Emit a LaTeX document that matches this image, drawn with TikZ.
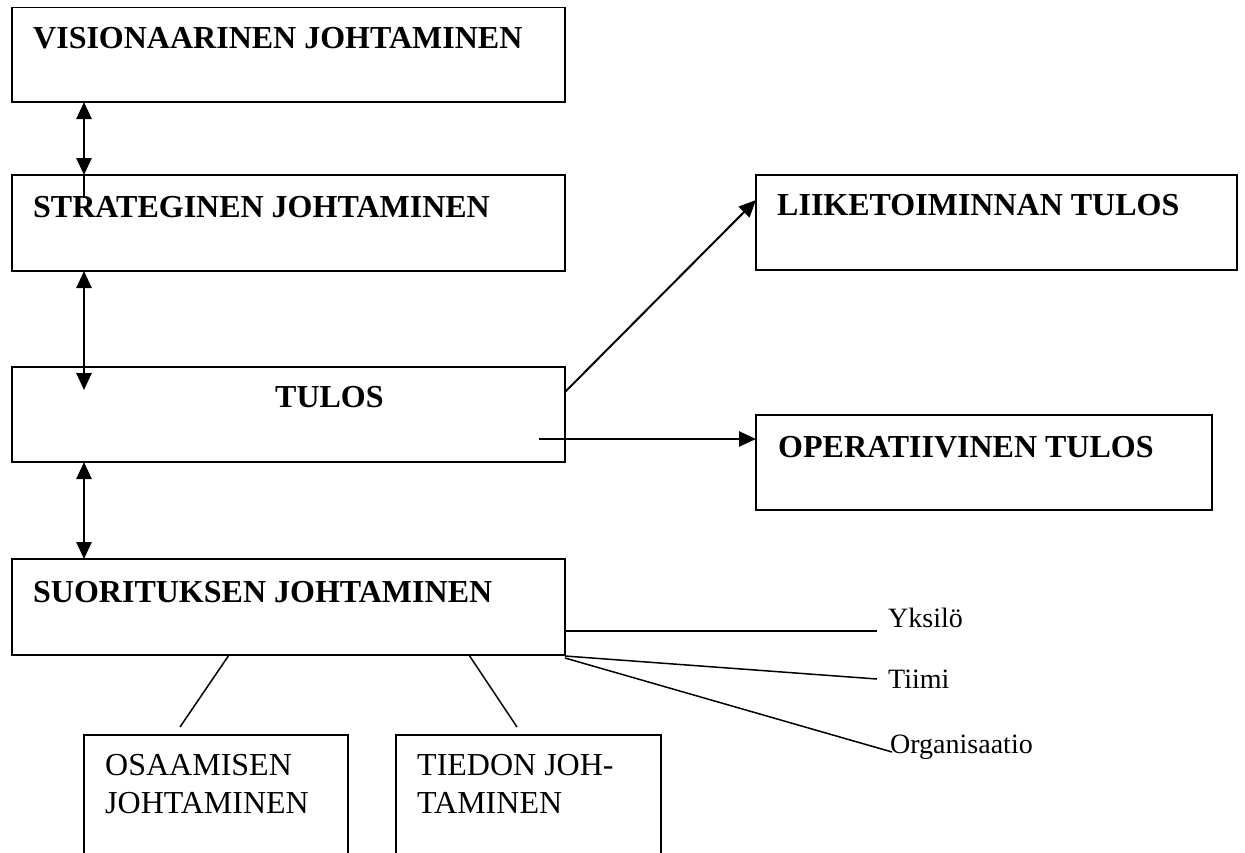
\documentclass[tikz,border=0pt]{standalone}
\usepackage{fontspec}
\setmainfont{Liberation Serif}
\usetikzlibrary{arrows.meta}

\begin{document}
\begin{tikzpicture}[x=1pt,y=-1pt,
  box/.style={draw, line width=1.5pt, anchor=north west, inner sep=0pt, outer sep=0pt},
  head/.style={font=\fontsize{32}{38}\selectfont\bfseries, anchor=base west, inner sep=0pt},
  plain/.style={font=\fontsize{32}{38}\selectfont, anchor=base west, inner sep=0pt, align=left},
  small/.style={font=\fontsize{28}{32}\selectfont, anchor=base west, inner sep=0pt},
  dbl/.style={{Triangle[length=17pt,width=15pt]}-{Triangle[length=17pt,width=15pt]}, line width=2.6pt},
  one/.style={-{Triangle[length=17pt,width=15pt]}},
  thin/.style={line width=1.5pt}]
\useasboundingbox (0,0) rectangle (1245,852);
\clip (0,0) rectangle (1245,852);
\fill[white] (0,0) rectangle (1245,852);

% boxes
\node[box, minimum width=553pt, minimum height=94.5pt] (vis) at (12,7.5) {};
\node[box, minimum width=553pt, minimum height=96pt] (str) at (12,175) {};
\node[box, minimum width=553pt, minimum height=95pt] (tul) at (12,367) {};
\node[box, minimum width=481pt, minimum height=95pt] (lii) at (756,175) {};
\node[box, minimum width=456pt, minimum height=95pt] (ope) at (756,415) {};
\node[box, minimum width=553pt, minimum height=96pt] (suo) at (12,559) {};
\node[box, minimum width=264pt, minimum height=140pt] (osa) at (84,735) {};
\node[box, minimum width=265pt, minimum height=140pt] (tie) at (396,735) {};

% texts (two-line labels are placed by the baseline of their last line)
\node[head] (tvis) at (33,48) {VISIONAARINEN JOHTAMINEN};
\node[head] (tstr) at (33,217) {STRATEGINEN JOHTAMINEN};
\node[head] (ttul) at (275,407) {TULOS};
\node[head] (tlii) at (777,215) {LIIKETOIMINNAN TULOS};
\node[head] (tope) at (778,457) {OPERATIIVINEN TULOS};
\node[head] (tsuo) at (33,602) {SUORITUKSEN JOHTAMINEN};
\node[plain] (tosa) at (105,813) {OSAAMISEN\\JOHTAMINEN};
\node[plain] (ttie) at (417,813) {TIEDON JOH-\\TAMINEN};
\node[small] (yks) at (888,627) {Yksilö};
\node[small] (tii) at (888,688) {Tiimi};
\node[small] (org) at (890,753) {Organisaatio};

% helper positions
\coordinate (ax) at (84,0);
\coordinate (a1) at (84,197);
\coordinate (a2) at (84,390);
\coordinate (dy1) at (0,392);
\coordinate (dy2) at (0,200);
\coordinate (h0) at (539,439);
\coordinate (y0) at (0,631);
\coordinate (yk) at (877,631);
\coordinate (ti) at (877,679);
\coordinate (ti0) at (0,656);
\coordinate (or) at (892,752);
\coordinate (or0) at (0,658);
\coordinate (l1) at (229,0);
\coordinate (l1e) at (180,727);
\coordinate (l2) at (469,0);
\coordinate (l2e) at (517,727);

% vertical two-way arrows
\draw[dbl] (vis.south -| ax) -- (str.north -| ax);
\draw[line width=2.6pt] (str.north -| ax) -- (a1);
\draw[dbl] (str.south -| ax) -- (a2);
\draw[dbl] (tul.south -| ax) -- (suo.north -| ax);

% result arrows
\draw[one, line width=2pt] (tul.east |- dy1) -- (lii.west |- dy2);
\draw[one, line width=2.6pt] (h0) -- (ope.west |- h0);

% levels of performance
\draw[thin] (suo.east |- y0) -- (yk);
\draw[thin] (suo.east |- ti0) -- (ti);
\draw[thin] (suo.east |- or0) -- (or);

% sub-areas
\draw[thin] (suo.south -| l1) -- (l1e);
\draw[thin] (suo.south -| l2) -- (l2e);
\end{tikzpicture}
\end{document}
